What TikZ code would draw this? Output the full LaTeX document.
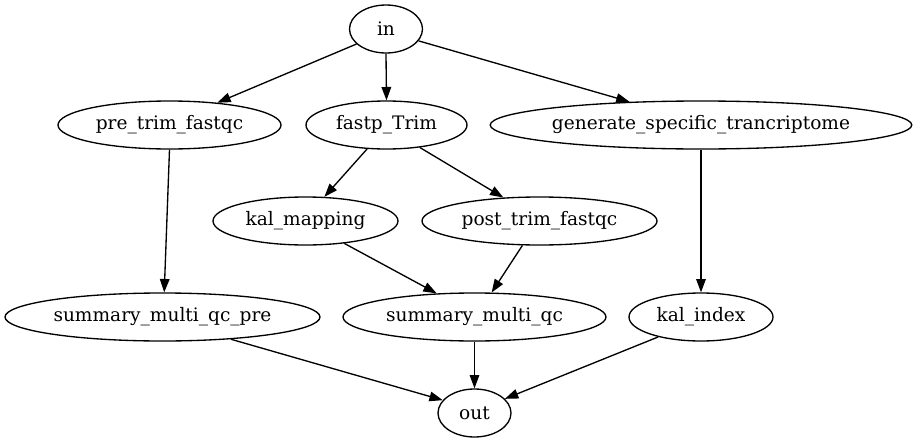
\documentclass[tikz,border=0pt]{standalone}
\usepackage{fontspec}
\setmainfont{DejaVu Serif}
\usetikzlibrary{shapes.geometric,arrows.meta}
\newdimen\px
\px=0.75pt
\newlength\labelprobe
\begin{document}
% label size: the widest bottom label is set 218px wide
\settowidth{\labelprobe}{\fontsize{14}{16}\selectfont summary\_multi\_qc\_pre}%
\pgfmathsetmacro\labelsize{14*163.5/\labelprobe}%
\begin{tikzpicture}[x=0.75pt,y=-0.75pt,
  proc/.style={draw, ellipse, line width=1pt, inner sep=0pt,
    minimum height=48\px, font=\fontsize{\labelsize}{\labelsize}\selectfont},
  flow/.style={draw, line width=1pt,
    -{Triangle[length=10pt,width=7.2pt]}}]
\useasboundingbox (0,0) rectangle (915,443);

% pipeline steps, one row per rank
\node[proc, minimum width=73\px]  (in)   at (386,29)    {in};
\node[proc, minimum width=223\px] (pre)  at (169.5,125) {pre\_trim\_fastqc};
\node[proc, minimum width=161\px] (trim) at (386.5,125) {fastp\_Trim};
\node[proc, minimum width=418\px] (gen)  at (701,125)   {generate\_specific\_trancriptome};
\node[proc, minimum width=185\px] (map)  at (305.5,221) {kal\_mapping};
\node[proc, minimum width=235\px] (post) at (539.5,221) {post\_trim\_fastqc};
\node[proc, minimum width=315\px] (sqp)  at (162.5,317) {summary\_multi\_qc\_pre};
\node[proc, minimum width=263\px] (sq)   at (474.5,317) {summary\_multi\_qc};
\node[proc, minimum width=144\px] (idx)  at (701,317)   {kal\_index};
\node[proc, minimum width=73\px]  (out)  at (474.5,413) {out};

% dependencies
\draw[flow] (in.207)   -- (pre.25);
\draw[flow] (in.270)   -- (trim.90);
\draw[flow] (in.340)   -- (gen.162.5);
\draw[flow] (trim.231) -- (map.52);
\draw[flow] (trim.326) -- (post.147);
\draw[flow] (map.330)  -- (sq.148);
\draw[flow] (post.235) -- (sq.55);
\draw[flow] (pre.270)  -- (sqp.86);
\draw[flow] (gen.270)  -- (idx.90);
\draw[flow] (sqp.342)  -- (out.158);
\draw[flow] (sq.270)   -- (out.90);
\draw[flow] (idx.205)  -- (out.25);
\end{tikzpicture}
\end{document}
